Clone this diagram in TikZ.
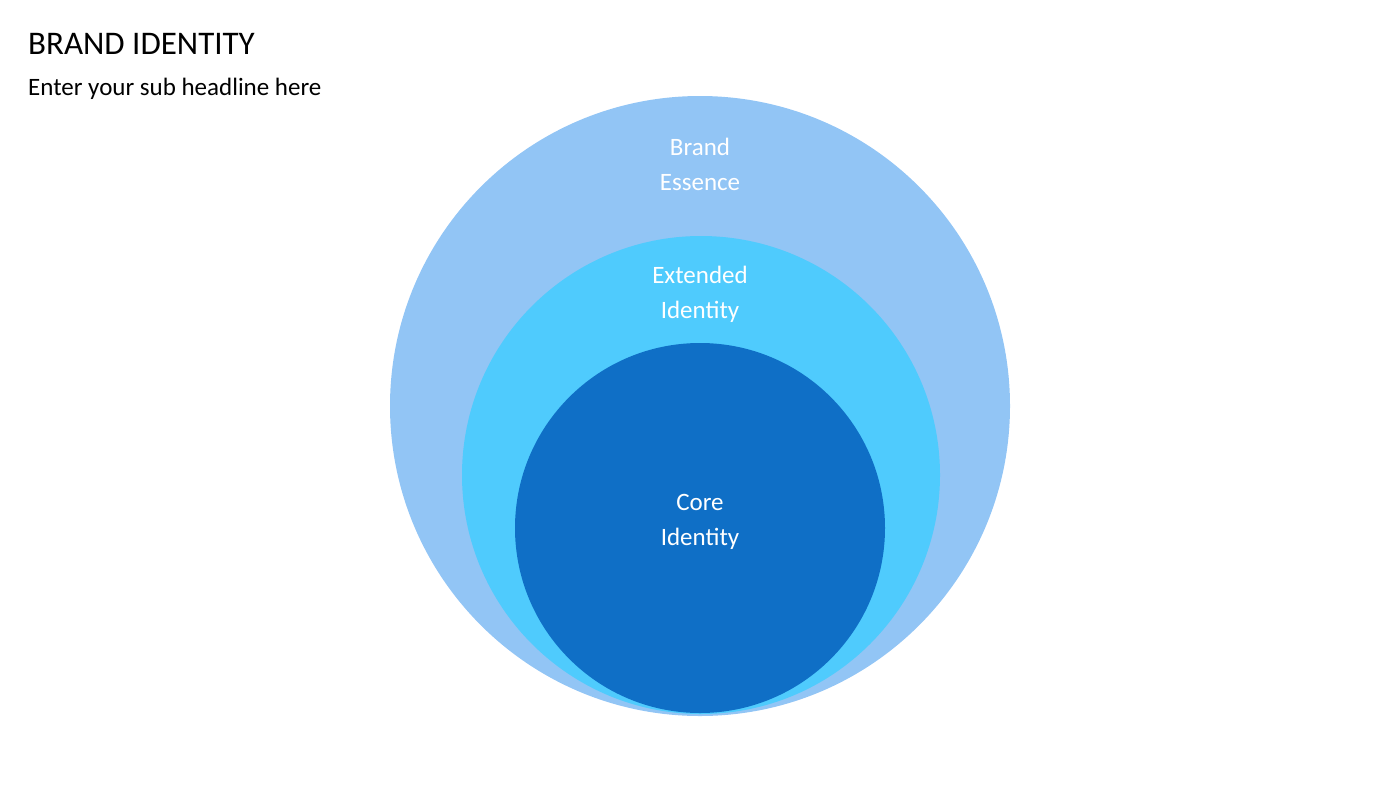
\documentclass[tikz,border=0pt]{standalone}
\usepackage{fontspec}
\setmainfont{Carlito}
\definecolor{outerc}{HTML}{92C5F5}
\definecolor{midc}{HTML}{4FCBFD}
\definecolor{innerc}{HTML}{0F6FC6}
\begin{document}
\begin{tikzpicture}[x=1pt,y=-1pt,
  lbl/.style={text=white,font=\fontsize{25}{35}\selectfont,align=center}]
\useasboundingbox (0,0) rectangle (1400,788);
\node[anchor=base west,inner sep=0,font=\fontsize{33}{40}\selectfont] (title) at (28,54) {BRAND IDENTITY};
\node[anchor=base west,inner sep=0,font=\fontsize{25}{30}\selectfont] (sub) at (28,95) {Enter your sub headline here};
\fill[outerc] (700,406) circle[radius=310] coordinate (outer);
\fill[midc] (701,475) circle[radius=239] coordinate (mid);
\fill[innerc] (700,528) circle[radius=185] coordinate (inner);
\node[lbl] (be) at (700,164) {Brand\\Essence};
\node[lbl] (ei) at (700,294) {Extended\\Identity};
\node[lbl] (ci) at (700,522) {Core\\Identity};
\end{tikzpicture}
\end{document}
